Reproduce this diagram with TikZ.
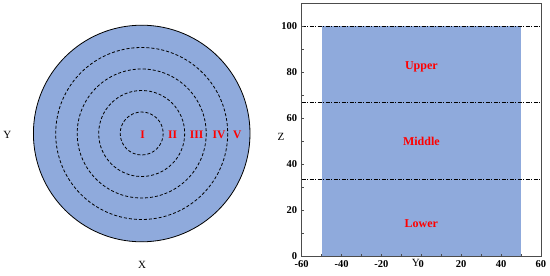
\documentclass[tikz,border=0pt]{standalone}
\usepackage{fontspec}
\setmainfont{Liberation Serif}
\usepackage{tikz}
\usetikzlibrary{positioning}
\usepackage{xcolor}
\definecolor{zonefill}{HTML}{8FAADC}
\tikzstyle{ring} = [draw=black, line width=0.8pt, dash pattern=on 3pt off 2pt]

\begin{document}
\begin{tikzpicture}[
    x=1pt, y=-1pt,
    zonelabel/.style={font=\fontsize{11.5}{13}\selectfont\bfseries, text=red, inner sep=0pt},
    axislabel/.style={font=\fontsize{11}{13}\selectfont, inner sep=0pt},
    ticklabel/.style={font=\fontsize{10.5}{12}\selectfont\bfseries, inner sep=0pt},
    cutline/.style={line width=0.8pt, dash pattern=on 4pt off 1.5pt on 1pt off 1.5pt}
]
    \useasboundingbox (0,0) rectangle (550,276);

    % Left: cross section with rings
    \coordinate (c) at (141.7,133.5);
    \draw[fill=zonefill, line width=0.8pt] (c) circle[radius=108.3];
    \foreach \r in {21.5,43,64.5,86}
        \draw[ring] (c) circle[radius=\r];

    % Ring labels
    \node[zonelabel] (r1) at (142.7,135) {I};
    \node[zonelabel] (r2) at (172.7,135) {II};
    \node[zonelabel] (r3) at (196.7,135) {III};
    \node[zonelabel] (r4) at (219,135) {IV};
    \node[zonelabel] (r5) at (237.3,135) {V};

    % Axis names
    \node[axislabel] (ylab) at (7.3,135) {Y};
    \node[axislabel] (xlab) at (142,265) {X};

    % Right: vertical section
    \begin{scope}[xshift=421.35pt, yshift=-256pt, x=1.994pt, y=2.297pt]
        \fill[zonefill] (-50,0) rectangle (50,100);
        \foreach \z in {100,66.7,33.3}
            \draw[cutline] (-60,\z) -- (60,\z);
        \draw[gray!60!black, line width=0.6pt] (-60,0) rectangle (60,110);

        % Ticks
        \foreach \t in {-50,-40,...,50}
            \draw[gray!60!black, line width=0.5pt] (\t,0) -- +(0pt,2pt);
        \foreach \t in {10,20,...,100}
            \draw[gray!60!black, line width=0.5pt] (-60,\t) -- +(2pt,0pt);

        % Tick labels
        \foreach \t in {-60,-40,...,60}
            \node[ticklabel, below=4pt] at (\t,0) {\t};
        \foreach \t in {0,20,...,100}
            \node[ticklabel, left=4.5pt] at (-60,\t) {\t};

        % Layer labels
        \node[zonelabel, font=\fontsize{12}{14}\selectfont\bfseries] (upper) at (0,82.4) {Upper};
        \node[zonelabel, font=\fontsize{12}{14}\selectfont\bfseries] (middle) at (0,49.8) {Middle};
        \node[zonelabel, font=\fontsize{12}{14}\selectfont\bfseries] (lower) at (0,14.2) {Lower};

        % Axis names
        \node[axislabel] (zlab) at (-70.4,51.8) {Z};
        \node[axislabel, below=3.5pt] (ylab2) at (-2.7,0) {Y};
    \end{scope}

\end{tikzpicture}
\end{document}
